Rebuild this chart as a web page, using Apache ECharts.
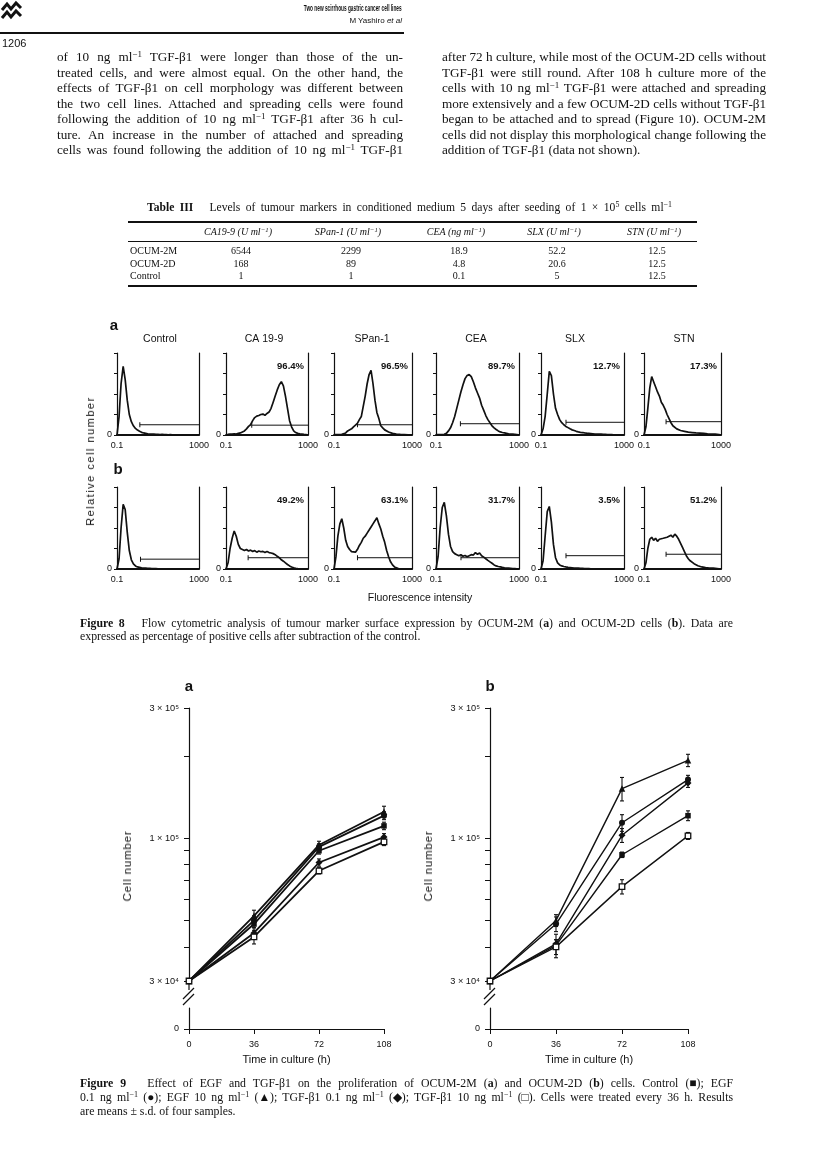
<!DOCTYPE html>
<html>
<head>
<meta charset="utf-8">
<script src="https://cdn.jsdelivr.net/npm/echarts@6/dist/echarts.min.js"></script>
<style>
  body { margin: 0; background: #fff; }
  #page { position: relative; width: 816px; height: 1169px; overflow: hidden; color: #111; font-family: "Liberation Serif", serif; }
  #chart { position: absolute; left: 0; top: 0; width: 816px; height: 1169px; }
  .t { position: absolute; white-space: nowrap; }
  .ln { position: absolute; white-space: nowrap; text-align: justify; text-align-last: justify; font-size: 13.2px; line-height: 16px; height: 16px; }
  .ln.last { text-align-last: left; }
  .cap { position: absolute; white-space: nowrap; text-align: justify; text-align-last: justify; font-size: 11.8px; line-height: 13px; height: 13px; }
  .cap.last { text-align-last: left; }
  .sym { display: inline-block; }
  sup { font-size: 68%; vertical-align: 0.45em; line-height: 0; }
  .rule { position: absolute; background: #111; }
  .cell { position: absolute; font-size: 10px; line-height: 12px; white-space: nowrap; transform: translateX(-50%); }
  .hd { font-style: italic; }
  .vlab { position: absolute; white-space: nowrap; font-family: "Liberation Sans", Arial, sans-serif; transform: translate(-50%, -50%) rotate(-90deg); }
</style>
</head>
<body>
<div id="page">
  <div id="chart"></div>

  <div class="t" style="right:414px;top:3px;font:bold 8.5px 'Liberation Sans Narrow','Liberation Sans',sans-serif;transform:scaleX(0.56);transform-origin:right center">Two new scirrhous gastric cancer cell lines</div>
  <div class="t" style="right:414px;top:16px;font:8px 'Liberation Sans Narrow','Liberation Sans',sans-serif">M Yashiro <i>et al</i></div>
  <div class="rule" style="left:0;top:32px;width:404px;height:1.5px"></div>
  <div class="t" style="left:2px;top:37px;font:11px 'Liberation Sans Narrow','Liberation Sans',sans-serif">1206</div>

  <!-- left column -->
  <div class="ln" style="left:57px;top:49px;width:346px">of 10 ng ml<sup>−1</sup> TGF-β1 were longer than those of the un-</div>
  <div class="ln" style="left:57px;top:64.5px;width:346px">treated cells, and were almost equal. On the other hand, the</div>
  <div class="ln" style="left:57px;top:80px;width:346px">effects of TGF-β1 on cell morphology was different between</div>
  <div class="ln" style="left:57px;top:95.5px;width:346px">the two cell lines. Attached and spreading cells were found</div>
  <div class="ln" style="left:57px;top:111px;width:346px">following the addition of 10 ng ml<sup>−1</sup> TGF-β1 after 36 h cul-</div>
  <div class="ln" style="left:57px;top:126.5px;width:346px">ture. An increase in the number of attached and spreading</div>
  <div class="ln" style="left:57px;top:142px;width:346px">cells was found following the addition of 10 ng ml<sup>−1</sup> TGF-β1</div>
  <!-- right column -->
  <div class="ln" style="left:442px;top:49px;width:324px">after 72 h culture, while most of the OCUM-2D cells without</div>
  <div class="ln" style="left:442px;top:64.5px;width:324px">TGF-β1 were still round. After 108 h culture more of the</div>
  <div class="ln" style="left:442px;top:80px;width:324px">cells with 10 ng ml<sup>−1</sup> TGF-β1 were attached and spreading</div>
  <div class="ln" style="left:442px;top:95.5px;width:324px">more extensively and a few OCUM-2D cells without TGF-β1</div>
  <div class="ln" style="left:442px;top:111px;width:324px">began to be attached and to spread (Figure 10). OCUM-2M</div>
  <div class="ln" style="left:442px;top:126.5px;width:324px">cells did not display this morphological change following the</div>
  <div class="ln last" style="left:442px;top:142px;width:324px">addition of TGF-β1 (data not shown).</div>

  <!-- Table III -->
  <div class="cap" style="left:147px;top:201px;width:525px;font-size:11.6px"><b>Table III</b>&nbsp;&nbsp; Levels of tumour markers in conditioned medium 5 days after seeding of 1 × 10<sup>5</sup> cells ml<sup>−1</sup></div>
  <div class="rule" style="left:128px;top:221px;width:569px;height:1.5px"></div>
  <div class="rule" style="left:128px;top:241px;width:569px;height:1px"></div>
  <div class="rule" style="left:128px;top:285px;width:569px;height:1.5px"></div>
  <div id="tbl"></div>

  <!-- rotated axis titles -->
  <div class="vlab" style="left:90px;top:461px;font-size:11px;letter-spacing:1.5px">Relative cell number</div>
  <div class="vlab" style="left:127px;top:866px;font-size:11.5px;letter-spacing:0.8px">Cell number</div>
  <div class="vlab" style="left:428px;top:866px;font-size:11.5px;letter-spacing:0.8px">Cell number</div>

  <!-- captions -->
  <div class="cap" style="left:80px;top:617px;width:653px"><b>Figure 8</b>&nbsp;&nbsp; Flow cytometric analysis of tumour marker surface expression by OCUM-2M (<b>a</b>) and OCUM-2D cells (<b>b</b>). Data are</div>
  <div class="cap last" style="left:80px;top:630px;width:653px">expressed as percentage of positive cells after subtraction of the control.</div>

  <div class="cap" style="left:80px;top:1077px;width:653px"><b>Figure 9</b>&nbsp;&nbsp; Effect of EGF and TGF-β1 on the proliferation of OCUM-2M (<b>a</b>) and OCUM-2D (<b>b</b>) cells. Control <span class="sym">(■);</span> EGF</div>
  <div class="cap" style="left:80px;top:1091px;width:653px">0.1 ng ml<sup>−1</sup> <span class="sym">(●);</span> EGF 10 ng ml<sup>−1</sup> <span class="sym">(▲);</span> TGF-β1 0.1 ng ml<sup>−1</sup> <span class="sym">(◆);</span> TGF-β1 10 ng ml<sup>−1</sup> <span class="sym">(□).</span> Cells were treated every 36 h. Results</div>
  <div class="cap last" style="left:80px;top:1105px;width:653px">are means ± s.d. of four samples.</div>
</div>

<script>
// ---- Table III ----
const tableRows = ['OCUM-2M', 'OCUM-2D', 'Control'];
const tableHeads = ['CA19-9 (U ml<sup>−1</sup>)', 'SPan-1 (U ml<sup>−1</sup>)', 'CEA (ng ml<sup>−1</sup>)', 'SLX (U ml<sup>−1</sup>)', 'STN (U ml<sup>−1</sup>)'];
const ca199 = ['6544', '168', '1'];
const span1 = ['2299', '89', '1'];
const cea = ['18.9', '4.8', '0.1'];
const slx = ['52.2', '20.6', '5'];
const stn = ['12.5', '12.5', '12.5'];

// ---- Figure 8: flow cytometry histograms (relative counts, 0-4 scale) ----
const fluor = [0.1, 0.126, 0.158, 0.2, 0.251, 0.316, 0.398, 0.501, 0.631, 0.794,
  1, 1.26, 1.58, 2, 2.51, 3.16, 3.98, 5.01, 6.31, 7.94,
  10, 12.6, 15.8, 20, 25.1, 31.6, 39.8, 50.1, 63.1, 79.4,
  100, 126, 158, 200, 251, 316, 398, 501, 631, 794, 1000];
const markerNames = ['Control', 'CA 19-9', 'SPan-1', 'CEA', 'SLX', 'STN'];

const a_control = [0, 0.9, 2.5, 3.35, 2.7, 1.7, 1.0, 0.65, 0.45, 0.32, 0.24, 0.18, 0.13, 0.1, 0.08, 0.06, 0.05, 0.04, 0.04, 0.03, 0.03, 0.02, 0.03, 0.02, 0.02, 0.01, 0.02, 0.01, 0.01, 0.01, 0.01, 0.01, 0, 0.01, 0, 0, 0, 0, 0, 0, 0];
const a_ca199 = [0.02, 0.03, 0.05, 0.04, 0.06, 0.05, 0.08, 0.1, 0.15, 0.2, 0.3, 0.42, 0.5, 0.7, 0.85, 0.92, 0.95, 1.0, 1.02, 0.96, 1.05, 1.12, 1.3, 1.6, 1.9, 2.2, 2.45, 2.6, 2.4, 1.9, 1.3, 0.7, 0.4, 0.2, 0.12, 0.08, 0.06, 0.05, 0.03, 0.02, 0];
const a_span1 = [0.02, 0.03, 0.02, 0.04, 0.03, 0.06, 0.1, 0.2, 0.25, 0.3, 0.4, 0.45, 0.57, 0.75, 0.9, 1.4, 1.9, 2.5, 2.95, 3.15, 2.5, 1.7, 1.1, 0.8, 0.45, 0.35, 0.25, 0.2, 0.15, 0.11, 0.08, 0.06, 0.05, 0.05, 0.03, 0.03, 0.02, 0.02, 0.01, 0.01, 0];
const a_cea = [0.02, 0.02, 0.02, 0.02, 0.03, 0.08, 0.2, 0.35, 0.6, 0.9, 1.3, 1.7, 2.1, 2.45, 2.75, 2.9, 2.95, 2.85, 2.6, 2.3, 2.05, 1.8, 1.45, 1.2, 0.95, 0.75, 0.6, 0.45, 0.35, 0.27, 0.2, 0.15, 0.12, 0.1, 0.08, 0.06, 0.05, 0.04, 0.03, 0.02, 0];
const a_slx = [0, 0.3, 0.9, 2.0, 3.1, 2.9, 2.0, 1.3, 1.0, 0.75, 0.6, 0.5, 0.42, 0.36, 0.3, 0.25, 0.22, 0.18, 0.15, 0.13, 0.12, 0.1, 0.09, 0.08, 0.07, 0.06, 0.05, 0.05, 0.04, 0.04, 0.03, 0.03, 0.02, 0.02, 0.02, 0.01, 0.01, 0.01, 0, 0, 0];
const a_stn = [0, 0.4, 1.3, 2.3, 2.85, 2.6, 2.35, 2.1, 1.9, 1.6, 1.45, 1.25, 1.0, 0.8, 0.6, 0.45, 0.38, 0.3, 0.27, 0.22, 0.2, 0.18, 0.15, 0.14, 0.13, 0.12, 0.11, 0.1, 0.1, 0.09, 0.08, 0.08, 0.07, 0.06, 0.06, 0.05, 0.04, 0.04, 0.03, 0.02, 0];

const b_control = [0, 0.5, 2.0, 3.15, 2.9, 1.8, 0.9, 0.45, 0.25, 0.15, 0.1, 0.08, 0.06, 0.05, 0.04, 0.03, 0.03, 0.02, 0.02, 0.02, 0.01, 0.01, 0.01, 0.01, 0.01, 0, 0.01, 0, 0, 0, 0, 0, 0, 0, 0, 0, 0, 0, 0, 0, 0];
const b_ca199 = [0, 0.3, 1.0, 1.5, 1.85, 1.6, 1.2, 1.0, 0.95, 0.9, 0.95, 0.88, 0.92, 0.85, 0.9, 0.82, 0.88, 0.84, 0.86, 0.8, 0.85, 0.8, 0.78, 0.75, 0.7, 0.62, 0.55, 0.45, 0.38, 0.3, 0.22, 0.15, 0.1, 0.06, 0.03, 0.02, 0.01, 0.01, 0, 0, 0];
const b_span1 = [0, 0.6, 1.6, 2.2, 2.45, 2.0, 1.4, 1.1, 0.95, 0.85, 0.78, 0.82, 0.95, 1.15, 1.3, 1.5, 1.6, 1.75, 1.9, 2.05, 2.2, 2.35, 2.5, 2.2, 1.95, 1.6, 1.3, 0.9, 0.6, 0.35, 0.2, 0.1, 0.05, 0.02, 0, 0, 0, 0, 0, 0, 0];
const b_cea = [0, 0.6, 2.0, 3.0, 3.25, 2.6, 1.7, 1.1, 0.85, 0.75, 0.7, 0.65, 0.7, 0.62, 0.66, 0.6, 0.65, 0.7, 0.68, 0.8, 0.72, 0.78, 0.65, 0.58, 0.5, 0.42, 0.35, 0.28, 0.2, 0.15, 0.12, 0.1, 0.08, 0.06, 0.05, 0.04, 0.03, 0.02, 0.02, 0.01, 0];
const b_slx = [0, 0.4, 1.6, 2.8, 3.05, 2.3, 1.2, 0.55, 0.3, 0.2, 0.15, 0.12, 0.1, 0.08, 0.07, 0.06, 0.05, 0.04, 0.04, 0.03, 0.03, 0.02, 0.02, 0.02, 0.01, 0.01, 0.01, 0, 0, 0, 0, 0, 0, 0, 0, 0, 0, 0, 0, 0, 0];
const b_stn = [0, 0.3, 1.0, 1.45, 1.55, 1.4, 1.5, 1.35, 1.45, 1.4, 1.5, 1.45, 1.55, 1.5, 1.65, 1.55, 1.7, 1.6, 1.45, 1.25, 1.05, 0.85, 0.65, 0.5, 0.4, 0.32, 0.26, 0.2, 0.16, 0.13, 0.1, 0.08, 0.07, 0.06, 0.05, 0.04, 0.04, 0.03, 0.02, 0.01, 0];

// positive-cell gate: start intensity and level
const gateStartA = [1.3, 1.8, 1.6, 1.5, 1.6, 1.4];
const gateLevelA = [0.5, 0.48, 0.5, 0.55, 0.62, 0.65];
const gateStartB = [1.4, 1.2, 1.6, 1.6, 1.6, 1.4];
const gateLevelB = [0.48, 0.55, 0.55, 0.55, 0.65, 0.72];
const pctA = ['', '96.4%', '96.5%', '89.7%', '12.7%', '17.3%'];
const pctB = ['', '49.2%', '63.1%', '31.7%', '3.5%', '51.2%'];

// ---- Figure 9: cell number vs time in culture ----
const hours = [0, 36, 72, 108];
const yTicks = [30000, 40000, 50000, 60000, 70000, 80000, 90000, 100000, 200000, 300000];
const yLabels = [30000, 100000, 300000];
const treatments = ['Control', 'EGF 0.1 ng/ml', 'EGF 10 ng/ml', 'TGF-β1 0.1 ng/ml', 'TGF-β1 10 ng/ml'];
// OCUM-2M (a)
const a_ctrl = [30000, 48500, 90000, 111000];
const a_egf01 = [30000, 50000, 93000, 121000];
const a_egf10 = [30000, 52000, 94500, 125000];
const a_tgf01 = [30000, 45000, 81500, 101000];
const a_tgf10 = [30000, 43500, 76000, 97000];
const a_ctrlSd = [0, 1500, 2500, 3500];
const a_egf01Sd = [0, 2000, 2500, 4000];
const a_egf10Sd = [0, 2500, 3000, 6000];
const a_tgf01Sd = [0, 2000, 2500, 3000];
const a_tgf10Sd = [0, 2500, 2000, 3000];
// OCUM-2D (b)
const b_ctrl = [30000, 40500, 87000, 121000];
const b_egf01 = [30000, 48500, 114000, 164000];
const b_egf10 = [30000, 50000, 152000, 193000];
const b_tgf01 = [30000, 41000, 102500, 159500];
const b_tgf10 = [30000, 40000, 66500, 102000];
const b_ctrlSd = [0, 4000, 2000, 5000];
const b_egf01Sd = [0, 3000, 8000, 6000];
const b_egf10Sd = [0, 2500, 15000, 10000];
const b_tgf01Sd = [0, 1500, 6000, 6000];
const b_tgf10Sd = [0, 2500, 4000, 3000];

// ---------- build table ----------
(function () {
  const tbl = document.getElementById('tbl');
  const colX = [238, 348, 456, 554, 654];
  const rowY = [245, 257.5, 270];
  const cols = [ca199, span1, cea, slx, stn];
  const add = (html, x, y, cls, center) => {
    const d = document.createElement('div');
    d.className = 'cell ' + (cls || '');
    d.innerHTML = html;
    d.style.left = x + 'px'; d.style.top = y + 'px';
    if (!center) d.style.transform = 'none';
    tbl.appendChild(d);
  };
  tableHeads.forEach((h, i) => add(h, colX[i], 226, 'hd', true));
  tableRows.forEach((r, j) => {
    add(r, 130, rowY[j], '', false);
    cols.forEach((c, i) => add(c[j], colX[i] + 3, rowY[j], '', true));
  });
})();

// ---------- chart ----------
const SANS = '"Liberation Sans", Arial, sans-serif';
const chart = echarts.init(document.getElementById('chart'), null, { renderer: 'canvas' });
const grid = [], xAxis = [], yAxis = [], series = [], graphic = [];
const black = '#111';

function text(x, y, str, font, align, extra) {
  graphic.push(Object.assign({
    type: 'text', x: x, y: y, silent: true,
    style: { text: str, font: font, fill: black, textAlign: align || 'center', textVerticalAlign: 'middle' }
  }, extra || {}));
}

// Figure 8 panels
const panelLeft = [117, 226, 334, 436, 541, 644];
const panelRight = [199, 308, 412, 519, 624, 721];
const rowTop = [353, 487];
const rowH = 82;
const histA = [a_control, a_ca199, a_span1, a_cea, a_slx, a_stn];
const histB = [b_control, b_ca199, b_span1, b_cea, b_slx, b_stn];

function addHist(row, col, counts, gs, gl, pct) {
  const gi = grid.length;
  grid.push({ left: panelLeft[col], top: rowTop[row], width: panelRight[col] - panelLeft[col], height: rowH, outerBoundsMode: 'none' });
  xAxis.push({
    gridIndex: gi, type: 'log', logBase: 10, min: 0.1, max: 1000,
    axisLine: { show: true, lineStyle: { color: black, width: 1.8 } },
    axisTick: { show: false }, splitLine: { show: false },
    axisLabel: { color: black, fontSize: 9, fontFamily: SANS, margin: 6, showMinLabel: true, showMaxLabel: true,
      formatter: v => (v < 0.5 ? '0.1' : v > 500 ? '1000' : '') }
  });
  yAxis.push({
    gridIndex: gi, type: 'value', min: 0, max: 4, interval: 1,
    axisLine: { show: true, lineStyle: { color: black, width: 1.2 } },
    axisTick: { show: true, length: 3, lineStyle: { color: black } }, splitLine: { show: false },
    axisLabel: { color: black, fontSize: 9, fontFamily: SANS, margin: 5, formatter: v => (v === 0 ? '0' : '') }
  });
  yAxis.push({
    gridIndex: gi, type: 'value', min: 0, max: 4, position: 'right',
    axisLine: { show: true, lineStyle: { color: black, width: 1.2 } },
    axisTick: { show: false }, axisLabel: { show: false }, splitLine: { show: false }
  });
  const yi = yAxis.length - 2;
  series.push({
    type: 'line', xAxisIndex: gi, yAxisIndex: yi, symbol: 'none', silent: true,
    lineStyle: { color: black, width: 1.7 },
    data: fluor.map((f, i) => [f, counts[i]])
  });
  series.push({
    type: 'line', xAxisIndex: gi, yAxisIndex: yi, silent: true,
    lineStyle: { color: black, width: 1 },
    data: [{ value: [gs, gl], symbol: 'rect', symbolSize: [1, 5] }, { value: [1000, gl], symbol: 'none' }],
    itemStyle: { color: black }
  });
  if (pct) text(panelRight[col] - 4, rowTop[row] + 13, pct, 'bold 9.5px ' + SANS, 'right');
}
histA.forEach((h, c) => addHist(0, c, h, gateStartA[c], gateLevelA[c], pctA[c]));
histB.forEach((h, c) => addHist(1, c, h, gateStartB[c], gateLevelB[c], pctB[c]));

const titleX = [160, 264, 372, 476, 575, 684];
markerNames.forEach((n, i) => text(titleX[i], 339, n, '10.5px ' + SANS));
text(114, 326, 'a', 'bold 15px ' + SANS);
text(118, 470, 'b', 'bold 15px ' + SANS);
text(420, 598, 'Fluorescence intensity', '10.5px ' + SANS);

// Figure 9 panels
const symbols = ['rect', 'circle', 'triangle', 'diamond', 'rect'];
const symbolSize = [5.5, 6, 6.5, 7, 5.5];

function addGrowth(left, width, label, groups, sds, lw) {
  const gi = grid.length;
  grid.push({ left: left, top: 708, width: width, height: 273, outerBoundsMode: 'none' });
  xAxis.push({ gridIndex: gi, type: 'value', min: 0, max: 108, interval: 36, show: false });
  yAxis.push({
    gridIndex: gi, type: 'log', logBase: 10, min: 30000, max: 300000,
    axisLine: { show: true, lineStyle: { color: black, width: 1.2 } },
    axisTick: { show: true, length: 5, customValues: yTicks, lineStyle: { color: black } },
    minorTick: { show: false }, splitLine: { show: false },
    axisLabel: { customValues: yLabels, color: black, fontSize: 9.2, fontFamily: SANS, margin: 10,
      formatter: v => {
        const e = Math.floor(Math.log10(v) + 1e-9);
        const m = Math.round(v / Math.pow(10, e));
        return m + ' × 10' + (e === 5 ? '⁵' : '⁴');
      } }
  });
  const yi = yAxis.length - 1;
  groups.forEach((vals, k) => {
    series.push({
      type: 'line', name: treatments[k], xAxisIndex: gi, yAxisIndex: yi,
      symbol: symbols[k], symbolSize: symbolSize[k], silent: true,
      lineStyle: { color: black, width: lw },
      itemStyle: k === 4 ? { color: '#fff', borderColor: black, borderWidth: 1.3 } : { color: black },
      data: hours.map((h, i) => [h, vals[i]]), z: 3
    });
    series.push({
      type: 'custom', xAxisIndex: gi, yAxisIndex: yi, silent: true, z: 2,
      data: hours.map((h, i) => [h, vals[i] - sds[k][i], vals[i] + sds[k][i]]).filter((d, i) => sds[k][i] > 0),
      encode: { x: 0, y: [1, 2] },
      renderItem: (params, api) => {
        const lo = api.coord([api.value(0), api.value(1)]);
        const hi = api.coord([api.value(0), api.value(2)]);
        const st = { stroke: black, lineWidth: 1.1 };
        return { type: 'group', children: [
          { type: 'line', shape: { x1: lo[0], y1: lo[1], x2: hi[0], y2: hi[1] }, style: st },
          { type: 'line', shape: { x1: lo[0] - 2, y1: lo[1], x2: lo[0] + 2, y2: lo[1] }, style: st },
          { type: 'line', shape: { x1: hi[0] - 2, y1: hi[1], x2: hi[0] + 2, y2: hi[1] }, style: st }
        ] };
      }
    });
  });
  // lower part of the broken axis (zero)
  const gj = grid.length;
  grid.push({ left: left, top: 1008, width: width, height: 21, outerBoundsMode: 'none' });
  xAxis.push({
    gridIndex: gj, type: 'value', min: 0, max: 108, interval: 36,
    axisLine: { show: true, lineStyle: { color: black, width: 1.2 } },
    axisTick: { show: true, length: 5, lineStyle: { color: black } }, splitLine: { show: false },
    axisLabel: { color: black, fontSize: 9, fontFamily: SANS, margin: 11 }
  });
  yAxis.push({
    gridIndex: gj, type: 'value', min: 0, max: 1, interval: 1,
    axisLine: { show: true, lineStyle: { color: black, width: 1.2 } },
    axisTick: { show: true, length: 5, customValues: [0], lineStyle: { color: black } }, splitLine: { show: false },
    axisLabel: { color: black, fontSize: 9, fontFamily: SANS, margin: 10, formatter: v => (v === 0 ? '0' : '') }
  });
  // axis break marks
  const st = { stroke: black, lineWidth: 1.2 };
  graphic.push({ type: 'line', silent: true, shape: { x1: left, y1: 981, x2: left, y2: 990 }, style: st });
  graphic.push({ type: 'line', silent: true, shape: { x1: left - 6, y1: 999, x2: left + 5, y2: 988 }, style: st });
  graphic.push({ type: 'line', silent: true, shape: { x1: left - 6, y1: 1005, x2: left + 5, y2: 994 }, style: st });
  text(left, 687, label, 'bold 15px ' + SANS);
  text(left + width / 2, 1060, 'Time in culture (h)', '11px ' + SANS);
}
addGrowth(189, 195, 'a', [a_ctrl, a_egf01, a_egf10, a_tgf01, a_tgf10], [a_ctrlSd, a_egf01Sd, a_egf10Sd, a_tgf01Sd, a_tgf10Sd], 1.8);
addGrowth(490, 198, 'b', [b_ctrl, b_egf01, b_egf10, b_tgf01, b_tgf10], [b_ctrlSd, b_egf01Sd, b_egf10Sd, b_tgf01Sd, b_tgf10Sd], 1.4);

// publisher mark
graphic.push({ type: 'polyline', silent: true, shape: { points: [[2, 10], [7, 4], [11, 9], [16, 3], [21, 8]] }, style: { stroke: black, lineWidth: 3, fill: null } });
graphic.push({ type: 'polyline', silent: true, shape: { points: [[2, 18], [7, 12], [11, 17], [16, 11], [21, 16]] }, style: { stroke: black, lineWidth: 3, fill: null } });

chart.setOption({
  animation: false,
  grid: grid, xAxis: xAxis, yAxis: yAxis, series: series, graphic: graphic
});

// keep every justified line on one line
document.querySelectorAll('.ln, .cap').forEach(el => {
  let ls = 0;
  while (el.scrollWidth > el.clientWidth + 0.5 && ls > -1) { ls -= 0.05; el.style.letterSpacing = ls + 'px'; }
});
</script>
</body>
</html>
